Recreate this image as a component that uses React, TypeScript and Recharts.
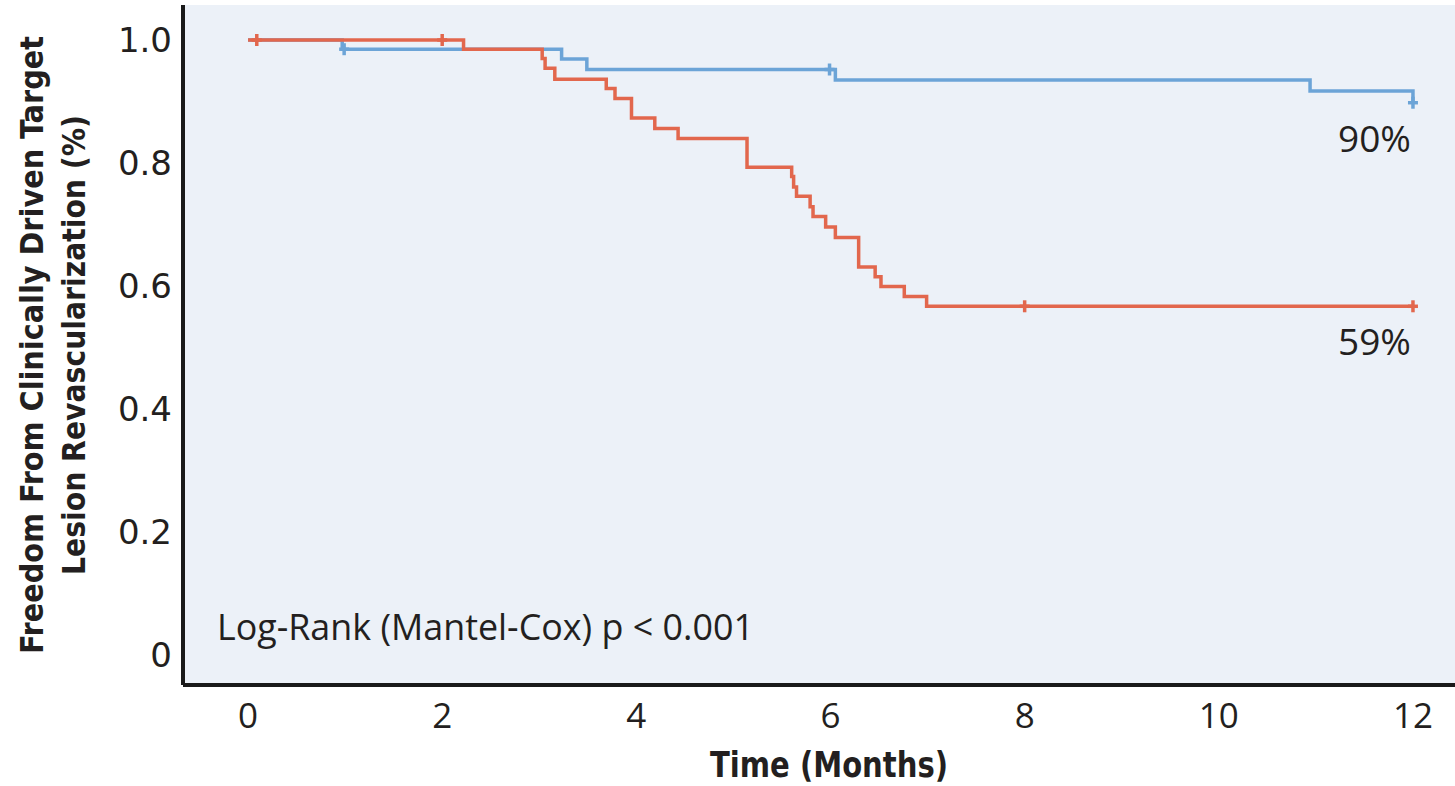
import React from "react";
import {
  ComposedChart,
  Line,
  Scatter,
  XAxis,
  YAxis,
  CartesianGrid,
  ReferenceDot,
} from "recharts";

// ---- Data ----
const redTimes = [0, 2.22, 3.03, 3.06, 3.16, 3.69, 3.78, 3.95, 4.19, 4.43, 5.14, 5.6, 5.62, 5.65, 5.79, 5.82, 5.95, 6.05, 6.29, 6.46, 6.52, 6.76, 6.99, 12];
const redSurv = [1.0, 0.985, 0.97, 0.954, 0.936, 0.921, 0.905, 0.873, 0.856, 0.84, 0.793, 0.778, 0.761, 0.746, 0.729, 0.713, 0.696, 0.679, 0.631, 0.615, 0.599, 0.583, 0.567, 0.567];
const redCensorTimes = [0.09, 2.0, 8.0, 12.0];
const redCensorSurv = [1.0, 1.0, 0.567, 0.567];

const blueTimes = [0, 0.97, 3.23, 3.49, 6.05, 10.94, 12];
const blueSurv = [1.0, 0.985, 0.969, 0.952, 0.935, 0.917, 0.898];
const blueCensorTimes = [0.99, 5.99, 12.0];
const blueCensorSurv = [0.985, 0.952, 0.898];

const xTicks = [0, 2, 4, 6, 8, 10, 12];
const yTicks = [0, 0.2, 0.4, 0.6, 0.8, 1.0];

const blueEndLabel = "90%";
const redEndLabel = "59%";
const pValueText = "Log-Rank (Mantel-Cox) p < 0.001";
const xTitle = "Time (Months)";
const yTitleLine1 = "Freedom From Clinically Driven Target";
const yTitleLine2 = "Lesion Revascularization (%)";

const zip = (ts: number[], ss: number[]) => ts.map((t, i) => ({ t, s: ss[i] }));
const redData = zip(redTimes, redSurv);
const blueData = zip(blueTimes, blueSurv);
const redCensor = zip(redCensorTimes, redCensorSurv);
const blueCensor = zip(blueCensorTimes, blueCensorSurv);

const RED = "#E2674D";
const BLUE = "#6CA4D7";
const BG = "#ECF1F8";
const TXT = "#231F20";
const NARROW = "'Liberation Sans Narrow','DejaVu Sans Condensed','Arial Narrow',sans-serif";
const HUMAN = "'Open Sans','Noto Sans',sans-serif";
const GEO = "'DejaVu Sans','Lato',sans-serif";

const censorShape = (color: string) => (props: any) => {
  const { cx, cy } = props;
  if (cx == null || cy == null) return <g />;
  return (
    <g>
      <line x1={cx} x2={cx} y1={cy - 6} y2={cy + 6} stroke={color} strokeWidth={3.5} />
      <line x1={cx - 5} x2={cx + 5} y1={cy} y2={cy} stroke={color} strokeWidth={3.5} />
    </g>
  );
};

const YTitle = (props: any) => {
  const vb = props.viewBox || {};
  const cy = (vb.y ?? 5) + (vb.height ?? 680) / 2;
  return (
    <g fontFamily={NARROW} fontWeight="bold" fontSize={32} fill={TXT}>
      <text transform={`translate(43,${cy}) rotate(-90)`} textAnchor="middle" textLength={618} lengthAdjust="spacingAndGlyphs">
        {yTitleLine1}
      </text>
      <text transform={`translate(85,${cy}) rotate(-90)`} textAnchor="middle" textLength={460} lengthAdjust="spacingAndGlyphs">
        {yTitleLine2}
      </text>
    </g>
  );
};

const XTitle = (props: any) => {
  const vb = props.viewBox || {};
  const cx = (vb.x ?? 183) + (vb.width ?? 1272) / 2;
  return (
    <text x={cx + 10} y={777} textAnchor="middle" fontFamily={NARROW} fontWeight="bold" fontSize={35} fill={TXT} textLength={238} lengthAdjust="spacingAndGlyphs">
      {xTitle}
    </text>
  );
};

const endLabel = (text: string, dy: number) => (props: any) => {
  const vb = props.viewBox || {};
  return (
    <text x={vb.x - 1} y={vb.y + dy} textAnchor="end" fontFamily={HUMAN} fontSize={37} fill={TXT}>
      {text}
    </text>
  );
};

const pLabel = (props: any) => {
  const vb = props.viewBox || {};
  return (
    <text x={vb.x} y={vb.y} textAnchor="start" fontFamily={HUMAN} fontSize={37} fill={TXT} textLength={537} lengthAdjust="spacingAndGlyphs">
      {pValueText}
    </text>
  );
};

export default function App() {
  return (
    <div style={{ position: "absolute", left: 0, top: 0, width: 1455, height: 786, background: "#fff" }}>
      <ComposedChart width={1455} height={786} margin={{ top: 5, right: 0, bottom: 0, left: 0 }}>
        <CartesianGrid horizontal={false} vertical={false} fill={BG} stroke="none" />
        <XAxis
          type="number"
          dataKey="t"
          domain={[-0.67, 12.433]}
          ticks={xTicks}
          allowDataOverflow
          height={101}
          axisLine={{ stroke: "#1a1a1a", strokeWidth: 4 }}
          tickLine={false}
          tickSize={10}
          tickMargin={8}
          tick={{ fontFamily: HUMAN, fontSize: 35, fill: TXT }}
          label={<XTitle />}
        />
        <YAxis
          type="number"
          domain={[-0.0488, 1.0569]}
          ticks={yTicks}
          allowDataOverflow
          width={183}
          axisLine={{ stroke: "#1a1a1a", strokeWidth: 4 }}
          tickLine={false}
          tickSize={8}
          tickMargin={3}
          tickFormatter={(v: number) => (v === 0 ? "0" : v.toFixed(1))}
          tick={{ fontFamily: GEO, fontSize: 34, fill: TXT }}
          label={<YTitle />}
        />
        <Line data={blueData} dataKey="s" type="stepAfter" stroke={BLUE} strokeWidth={3.5} dot={false} isAnimationActive={false} />
        <Line data={redData} dataKey="s" type="stepAfter" stroke={RED} strokeWidth={3.5} dot={false} isAnimationActive={false} />
        <Scatter data={blueCensor} dataKey="s" shape={censorShape(BLUE)} isAnimationActive={false} />
        <Scatter data={redCensor} dataKey="s" shape={censorShape(RED)} isAnimationActive={false} />
        <ReferenceDot x={12} y={0.898} r={1} fill="none" stroke="none" label={endLabel(blueEndLabel, 50)} />
        <ReferenceDot x={12} y={0.567} r={1} fill="none" stroke="none" label={endLabel(redEndLabel, 50)} />
        <ReferenceDot x={-0.31} y={0.022} r={1} fill="none" stroke="none" label={pLabel} />
      </ComposedChart>
    </div>
  );
}
